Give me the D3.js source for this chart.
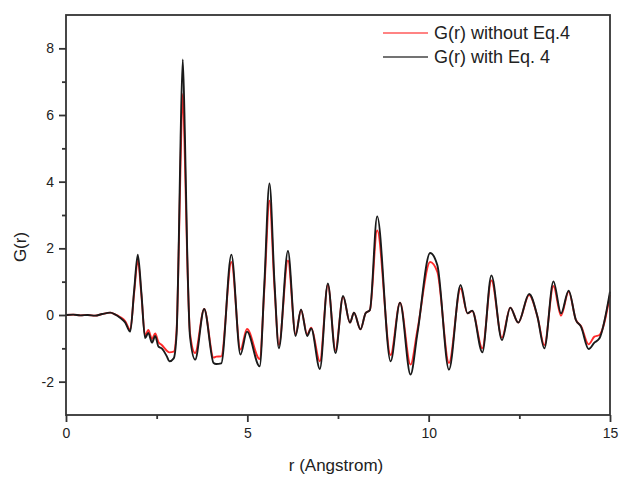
<!DOCTYPE html>
<html>
<head>
<meta charset="utf-8">
<script src="https://cdn.jsdelivr.net/npm/d3@7"></script>
<style>
  body { margin: 0; background: #fff; }
  svg { font-family: "Liberation Sans", Arial, sans-serif; }
</style>
</head>
<body>
<svg id="chart" width="621" height="477"></svg>
<script>
// r (Angstrom) sample positions
const rValues = [
  0.00, 0.20, 0.40, 0.60, 0.80, 1.00, 1.22, 1.35, 1.49, 1.63, 1.77, 1.88, 1.98, 2.08,
  2.18, 2.27, 2.37, 2.46, 2.55, 2.64, 2.78, 2.85, 2.97, 3.05, 3.11, 3.16, 3.22, 3.28,
  3.34, 3.42, 3.56, 3.81, 4.07, 4.14, 4.28, 4.56, 4.81, 4.99, 5.34, 5.47, 5.61, 5.75,
  5.87, 6.12, 6.33, 6.48, 6.65, 6.76, 7.00, 7.22, 7.43, 7.64, 7.83, 7.94, 8.12, 8.26,
  8.38, 8.58, 8.95, 9.21, 9.50, 9.69, 10.04, 10.24, 10.56, 10.88, 11.07, 11.20, 11.48,
  11.73, 12.02, 12.25, 12.47, 12.77, 13.00, 13.19, 13.44, 13.65, 13.86, 14.06, 14.20,
  14.41, 14.57, 14.71, 15.00
];

// G(r) with Eq. 4 (black)
const gWith = [
  0.00, 0.01, -0.01, 0.00, -0.02, 0.03, 0.07, 0.02, -0.08, -0.22, -0.50, 0.75, 1.81, 0.65,
  -0.69, -0.54, -0.83, -0.63, -0.95, -1.00, -1.24, -1.39, -1.30, -0.55, 2.20, 5.30, 7.67, 5.30,
  2.00, -0.65, -1.34, 0.18, -1.44, -1.47, -1.45, 1.81, -1.19, -0.50, -1.54, 0.95, 3.95, 0.95,
  -1.00, 1.92, -0.63, 0.17, -0.63, -0.40, -1.62, 0.95, -1.14, 0.57, -0.23, 0.07, -0.43, 0.05,
  0.15, 2.96, -1.39, 0.37, -1.79, -0.55, 1.86, 1.49, -1.64, 0.90, 0.05, 0.13, -1.12,
  1.19, -0.75, 0.22, -0.23, 0.63, -0.05, -1.00, 1.01, 0.05, 0.73, -0.15, -0.35,
  -1.02, -0.83, -0.70, 0.70
];

// G(r) without Eq.4 (red)
const gWithout = [
  0.00, 0.01, -0.01, 0.00, -0.02, 0.03, 0.07, 0.02, -0.06, -0.18, -0.45, 0.68, 1.64, 0.58,
  -0.62, -0.45, -0.72, -0.55, -0.82, -0.90, -1.07, -1.12, -1.10, -0.45, 2.00, 4.60, 6.63, 4.60,
  1.80, -0.55, -1.14, 0.18, -1.28, -1.25, -1.24, 1.59, -1.04, -0.42, -1.32, 0.80, 3.43, 0.80,
  -0.90, 1.64, -0.58, 0.15, -0.58, -0.38, -1.39, 0.90, -1.05, 0.55, -0.23, 0.07, -0.43, 0.05,
  0.15, 2.54, -1.20, 0.37, -1.49, -0.45, 1.59, 1.29, -1.44, 0.80, 0.05, 0.12, -1.00,
  1.04, -0.68, 0.22, -0.23, 0.60, -0.05, -0.90, 0.87, -0.02, 0.70, -0.15, -0.33,
  -0.88, -0.65, -0.60, 0.60
];

const xMajor = [0, 5, 10, 15];
const xMinor = [2.5, 7.5, 12.5];
const yMajor = [-2, 0, 2, 4, 6, 8];
const yMinor = [-1, 1, 3, 5, 7];

const seriesNames = ["G(r) without Eq.4", "G(r) with Eq. 4"];
const seriesColors = ["#ff2a2a", "#1a1a1a"];

const svg = d3.select("#chart");
const margin = { top: 15, right: 11, bottom: 62, left: 66 };
const width = 621 - margin.left - margin.right;
const height = 477 - margin.top - margin.bottom;

const x = d3.scaleLinear().domain([0, 15]).range([0, width]);
const y = d3.scaleLinear().domain([-3, 9]).range([height, 0]);

const g = svg.append("g").attr("transform", `translate(${margin.left},${margin.top})`);

const line = vals => d3.line()
  .x((d, i) => x(rValues[i]))
  .y(d => y(d))
  .curve(d3.curveMonotoneX)(vals);

// curves, black drawn over red
[gWithout, gWith].forEach((vals, i) => {
  g.append("path")
    .attr("d", line(vals))
    .attr("fill", "none")
    .attr("stroke", seriesColors[i])
    .attr("stroke-width", i === 0 ? 1.9 : 1.9)
    .attr("stroke-linejoin", "round");
});

// frame
g.append("rect")
  .attr("width", width)
  .attr("height", height)
  .attr("fill", "none")
  .attr("stroke", "#333")
  .attr("stroke-width", 1.8);

// axes
const styleAxis = sel => {
  sel.select(".domain").remove();
  sel.selectAll("line").attr("stroke", "#333").attr("stroke-width", 1.8);
  sel.selectAll("text").attr("fill", "#222").style("font-size", "14px");
};

g.append("g")
  .attr("transform", `translate(0,${height})`)
  .call(d3.axisBottom(x).tickValues(xMajor).tickSize(7).tickPadding(6).tickFormat(d3.format("d")))
  .call(styleAxis);
g.append("g")
  .attr("transform", `translate(0,${height})`)
  .call(d3.axisBottom(x).tickValues(xMinor).tickSize(4).tickFormat(""))
  .call(styleAxis);

g.append("g")
  .call(d3.axisLeft(y).tickValues(yMajor).tickSize(7).tickPadding(5).tickFormat(d => d < 0 ? "-" + Math.abs(d) : d))
  .call(styleAxis);
g.append("g")
  .call(d3.axisLeft(y).tickValues(yMinor).tickSize(4).tickFormat(""))
  .call(styleAxis);

// axis titles
svg.append("text")
  .attr("x", margin.left + x(7.5) - 2)
  .attr("y", 471)
  .attr("text-anchor", "middle")
  .attr("fill", "#222")
  .style("font-size", "17px")
  .text("r (Angstrom)");

svg.append("text")
  .attr("transform", "translate(26,247) rotate(-90)")
  .attr("text-anchor", "middle")
  .attr("fill", "#222")
  .style("font-size", "17px")
  .text("G(r)");

// legend
const legend = svg.append("g").attr("transform", "translate(383,33)");
seriesNames.forEach((name, i) => {
  const row = legend.append("g").attr("transform", `translate(0,${i * 24})`);
  row.append("line")
    .attr("x1", 0).attr("x2", 45)
    .attr("stroke", i === 0 ? "#ff5a5a" : "#444")
    .attr("stroke-width", 1.6);
  row.append("text")
    .attr("x", 51)
    .attr("dy", "0.35em")
    .attr("fill", "#222")
    .style("font-size", "18px")
    .text(name);
});
</script>
</body>
</html>
